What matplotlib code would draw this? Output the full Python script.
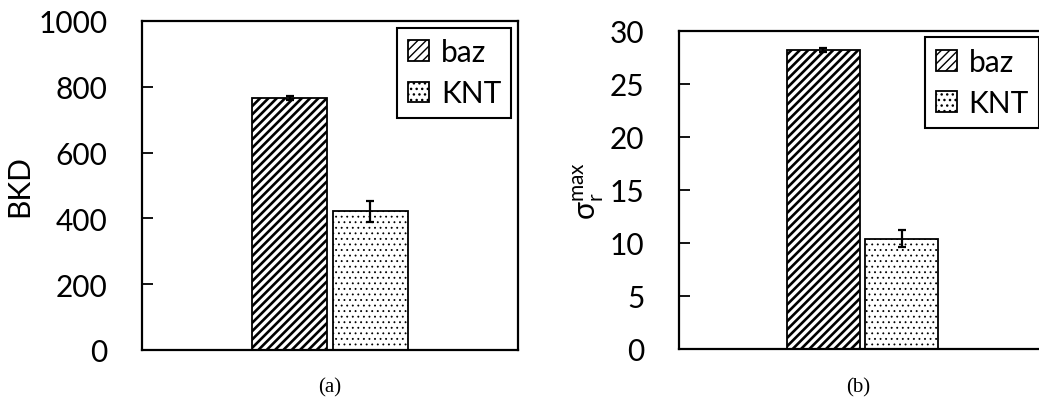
import matplotlib as mpl
import matplotlib.pyplot as plt
import numpy as np

plt.rcParams['font.family'] = ['Lato', 'DejaVu Sans']
plt.rcParams['mathtext.fontset'] = 'custom'
plt.rcParams['mathtext.rm'] = 'Lato'
plt.rcParams['mathtext.it'] = 'Lato'

series = ['baz', 'KNT']
bkd_mean = [765, 421]
bkd_err = [6, 33]
sig_mean = [28.2, 10.4]
sig_err = [0.2, 0.8]

hatches = ['////', '...']
hatch_lw = [1.9, 0.6]
offs = [-0.107, 0.107]
fs = 21.5

fig = plt.figure(figsize=(10.39, 4.14), dpi=100)
ax1 = fig.add_axes([0.1367, 0.1522, 0.3619, 0.7947])
ax2 = fig.add_axes([0.6535, 0.1546, 0.3532, 0.7688])


def draw(ax, means, errs, ymax, step, ylabel, labx):
    for i in range(2):
        with mpl.rc_context({'hatch.linewidth': hatch_lw[i]}):
            bars = ax.bar(offs[i], means[i], width=0.2, color='white', edgecolor='black',
                          hatch=hatches[i], linewidth=1.3, label=series[i],
                          yerr=errs[i], capsize=3,
                          error_kw=dict(elinewidth=1.6, capthick=1.6, ecolor='black'))
        for b in bars:
            if hasattr(b, 'set_hatch_linewidth'):
                b.set_hatch_linewidth(hatch_lw[i])
    ax.set_xlim(-0.5, 0.5)
    ax.set_ylim(0, ymax)
    ax.set_xticks([])
    ax.set_yticks(np.arange(0, ymax + step / 2, step))
    ax.tick_params(axis='y', direction='in', length=8, width=1.3, pad=25, labelsize=fs)
    for s in ax.spines.values():
        s.set_linewidth(1.6)
    ax.set_ylabel(ylabel, fontsize=fs)
    ax.yaxis.set_label_coords(labx, 0.5)
    leg = ax.legend(loc='upper right', fontsize=fs, frameon=True, fancybox=False,
                    edgecolor='black', handlelength=0.7, handleheight=0.7,
                    handletextpad=0.4, borderpad=0.35, labelspacing=0.45,
                    borderaxespad=0.22)
    leg.get_frame().set_linewidth(1.5)
    leg.get_frame().set_alpha(1)


draw(ax1, bkd_mean, bkd_err, 1000, 200, 'BKD', -0.29)
draw(ax2, sig_mean, sig_err, 30, 5, r'$\mathregular{\sigma_r^{max}}$', -0.2)

fig.text(330 / 1039, 1 - 388 / 414, '(a)', family='Liberation Serif', fontsize=15,
         ha='center', va='center')
fig.text(858 / 1039, 1 - 388 / 414, '(b)', family='Liberation Serif', fontsize=15,
         ha='center', va='center')

fig.savefig('out.png', dpi=100)
